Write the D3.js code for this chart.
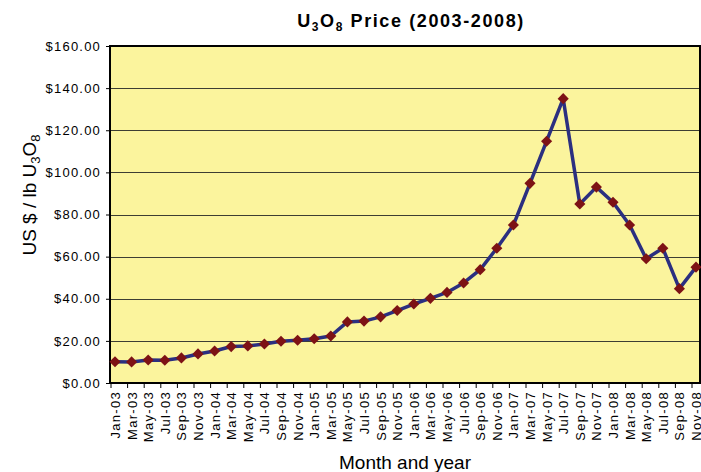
<!DOCTYPE html>
<html>
<head>
<meta charset="utf-8">
<script src="https://cdn.jsdelivr.net/npm/d3@7"></script>
<style>
  body { margin: 0; background: #fff; }
  svg { display: block; font-family: "Liberation Sans", Arial, sans-serif; }
</style>
</head>
<body>
<div id="chart"></div>
<script>
// categories (every other month) and price in US$ / lb
var months = ['Jan-03', 'Mar-03', 'May-03', 'Jul-03', 'Sep-03', 'Nov-03',
  'Jan-04', 'Mar-04', 'May-04', 'Jul-04', 'Sep-04', 'Nov-04',
  'Jan-05', 'Mar-05', 'May-05', 'Jul-05', 'Sep-05', 'Nov-05',
  'Jan-06', 'Mar-06', 'May-06', 'Jul-06', 'Sep-06', 'Nov-06',
  'Jan-07', 'Mar-07', 'May-07', 'Jul-07', 'Sep-07', 'Nov-07',
  'Jan-08', 'Mar-08', 'May-08', 'Jul-08', 'Sep-08', 'Nov-08']
var prices = [10.1, 10.0, 10.9, 10.8, 11.9, 13.8,
  15.2, 17.3, 17.6, 18.5, 19.8, 20.3,
  21.0, 22.3, 29.0, 29.4, 31.4, 34.4,
  37.5, 40.2, 43.0, 47.5, 53.8, 64.0,
  75.0, 94.8, 114.8, 135.0, 85.0, 93.0,
  85.8, 75.0, 59.0, 64.0, 44.8, 55.0]
var yTicks = [0, 20, 40, 60, 80, 100, 120, 140, 160]

var margin = { top: 46, left: 110, right: 1, bottom: 89 }
var totalWidth = 701
var totalHeight = 472
var width = totalWidth - margin.left - margin.right
var height = totalHeight - margin.top - margin.bottom

var data = months.map(function(m, i) {
  return { month: m, price: prices[i] }
})

var svg = d3.select('#chart')
  .append('svg')
  .attr('width', totalWidth)
  .attr('height', totalHeight)

var g = svg.append('g')
  .attr('transform', `translate(${margin.left},${margin.top})`)

var xPositionScale = d3.scalePoint()
  .domain(months)
  .range([5, width - 4])
var yPositionScale = d3.scaleLinear()
  .domain([0, 160])
  .range([height, 0])

// plot background
g.append('rect')
  .attr('width', width)
  .attr('height', height)
  .attr('fill', '#FBF49D')

// gridlines
g.selectAll('.grid')
  .data(yTicks.filter(d => d > 0 && d < 160))
  .enter()
  .append('line')
  .attr('class', 'grid')
  .attr('x1', 0)
  .attr('x2', width)
  .attr('y1', d => Math.round(yPositionScale(d)) + 0.5)
  .attr('y2', d => Math.round(yPositionScale(d)) + 0.5)
  .attr('stroke', '#3d3d33')
  .attr('stroke-width', 1.2)

// y axis
var yAxis = d3.axisLeft(yPositionScale)
  .tickValues(yTicks)
  .tickSize(4)
  .tickPadding(5)
  .tickFormat(d => '$' + d3.format('.2f')(d))

g.append('g')
  .attr('class', 'axis y-axis')
  .call(yAxis)
  .call(s => s.select('.domain').remove())
  .call(s => s.selectAll('line').attr('stroke', '#000'))
  .call(s => s.selectAll('text')
    .style('font-size', '13px')
    .style('letter-spacing', '1.2px')
    .attr('fill', '#000'))

// x axis ticks (sit a little left of each point, like the original)
g.selectAll('.x-tick')
  .data(months)
  .enter()
  .append('line')
  .attr('class', 'x-tick')
  .attr('x1', d => xPositionScale(d) - 4)
  .attr('x2', d => xPositionScale(d) - 4)
  .attr('y1', height)
  .attr('y2', height + 5)
  .attr('stroke', '#000')

g.selectAll('.x-label')
  .data(months)
  .enter()
  .append('text')
  .attr('class', 'x-label')
  .attr('transform', d => `translate(${xPositionScale(d) + 5},${height + 8}) rotate(-90)`)
  .attr('text-anchor', 'end')
  .style('font-size', '13px')
  .style('letter-spacing', '1.3px')
  .text(d => d)

// plot border
g.append('rect')
  .attr('width', width)
  .attr('height', height)
  .attr('fill', 'none')
  .attr('stroke', '#000')
  .attr('stroke-width', 2)

// line
var line = d3.line()
  .x(d => xPositionScale(d.month))
  .y(d => yPositionScale(d.price))

g.append('path')
  .datum(data)
  .attr('d', line)
  .attr('fill', 'none')
  .attr('stroke', '#2B2F80')
  .attr('stroke-width', 3.5)
  .attr('stroke-linejoin', 'round')

// diamond markers
var diamond = d3.symbol().type(d3.symbolSquare).size(62)

g.selectAll('.marker')
  .data(data)
  .enter()
  .append('path')
  .attr('class', 'marker')
  .attr('d', diamond)
  .attr('transform', d => `translate(${xPositionScale(d.month)},${yPositionScale(d.price)}) rotate(45)`)
  .attr('fill', '#7D1215')

// title
var title = svg.append('text')
  .attr('x', 411)
  .attr('y', 27)
  .attr('text-anchor', 'middle')
  .style('font-size', '18px')
  .style('font-weight', 'bold')
  .style('letter-spacing', '1.6px')
title.append('tspan').text('U')
title.append('tspan').attr('dy', 4).style('font-size', '12px').text('3')
title.append('tspan').attr('dy', -4).text('O')
title.append('tspan').attr('dy', 4).style('font-size', '12px').text('8')
title.append('tspan').attr('dy', -4).text(' Price (2003-2008)')

// y axis title
var yTitle = svg.append('text')
  .attr('transform', 'translate(36,195) rotate(-90)')
  .attr('text-anchor', 'middle')
  .style('font-size', '19px')
yTitle.append('tspan').text('US $ / lb U')
yTitle.append('tspan').attr('dy', 4).style('font-size', '13px').text('3')
yTitle.append('tspan').attr('dy', -4).text('O')
yTitle.append('tspan').attr('dy', 4).style('font-size', '13px').text('8')

// x axis title
svg.append('text')
  .attr('x', 405)
  .attr('y', 469)
  .attr('text-anchor', 'middle')
  .style('font-size', '19px')
  .text('Month and year')
</script>
</body>
</html>
